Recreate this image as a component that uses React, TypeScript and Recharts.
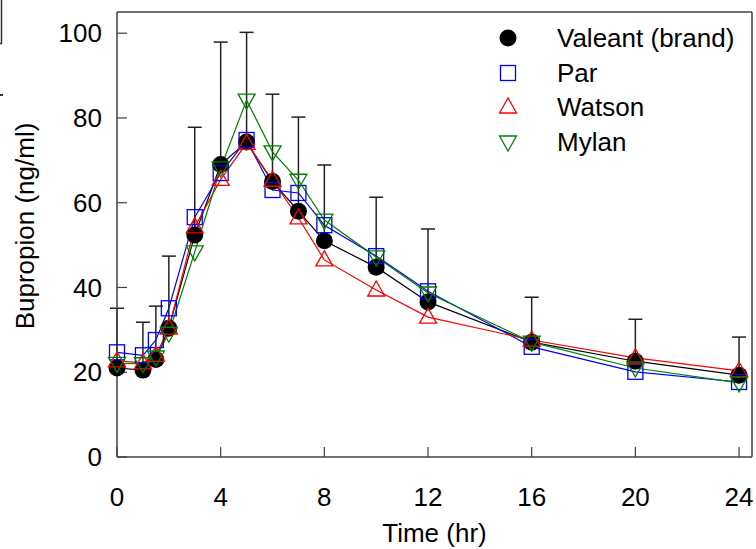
import { LineChart, Line, XAxis, YAxis, ErrorBar, Legend, ReferenceLine } from 'recharts'

const FONT = '"Liberation Sans", Arial, sans-serif'

// sampling times (hr)
const times = [0, 1, 1.5, 2, 3, 4, 5, 6, 7, 8, 10, 12, 16, 20, 24]

// mean plasma bupropion (ng/ml)
const valeant = [21, 20.5, 23, 30.4, 52.4, 69, 74.3, 65, 58, 51, 44.8, 36.6, 27.1, 22.6, 19.3]
const valeantSd = [14.1, 11.3, 12.6, 17, 25.4, 28.9, 25.9, 20.6, 22.2, 17.9, 16.5, 17.2, 10.6, 9.9, 9]
const par = [24.7, 24, 27.6, 35.1, 56.6, 67, 74.8, 63, 62.3, 54.7, 47.4, 39.1, 26, 20.1, 17.7]
const watson = [22.7, 22.2, 24, 30.4, 54.3, 65.5, 74, 65.3, 56.4, 46.5, 39.4, 33, 27.6, 23.4, 20.3]
const mylan = [22.1, 22, 23.6, 29.2, 48.4, 68.2, 84.2, 72, 65.3, 55.9, 47.2, 38.7, 27.1, 21, 17.5]

const xTicks = [0, 4, 8, 12, 16, 20, 24]
const yTicks = [0, 20, 40, 60, 80, 100]

const data = times.map((t, i) => ({
  t,
  valeant: valeant[i],
  valeantErr: [0, valeantSd[i]],
  par: par[i],
  watson: watson[i],
  mylan: mylan[i],
}))

type Shape = 'circle' | 'square' | 'up' | 'down'

function Marker({ shape, cx, cy, color }: { shape: Shape; cx: number; cy: number; color: string }) {
  if (shape === 'circle') return <circle cx={cx} cy={cy} r={8.5} fill={color} />
  if (shape === 'square')
    return <rect x={cx - 7.5} y={cy - 7.5} width={15} height={15} fill="none" stroke={color} strokeWidth={1.3} />
  if (shape === 'up')
    return (
      <polygon
        points={`${cx},${cy - 9} ${cx - 8.5},${cy + 6} ${cx + 8.5},${cy + 6}`}
        fill="none"
        stroke={color}
        strokeWidth={1.3}
      />
    )
  return (
    <polygon
      points={`${cx - 8.5},${cy - 6} ${cx + 8.5},${cy - 6} ${cx},${cy + 9}`}
      fill="none"
      stroke={color}
      strokeWidth={1.3}
    />
  )
}

const series: { key: string; name: string; color: string; shape: Shape }[] = [
  { key: 'valeant', name: 'Valeant (brand)', color: '#000000', shape: 'circle' },
  { key: 'par', name: 'Par', color: '#0000ff', shape: 'square' },
  { key: 'watson', name: 'Watson', color: '#ff0000', shape: 'up' },
  { key: 'mylan', name: 'Mylan', color: '#008000', shape: 'down' },
]

const renderDot = (shape: Shape, color: string) => (props: any) => {
  const { cx, cy, index } = props
  if (cx == null || cy == null) return <g key={index} />
  return <Marker key={index} shape={shape} cx={cx} cy={cy} color={color} />
}

function LegendBox() {
  return (
    <div style={{ fontFamily: FONT, fontSize: 26, color: '#000' }}>
      {series.map((s) => (
        <div key={s.key} style={{ display: 'flex', alignItems: 'center', height: 34.5 }}>
          <svg width={36} height={24} style={{ display: 'block' }}>
            <Marker shape={s.shape} cx={18} cy={12} color={s.color} />
          </svg>
          <span style={{ marginLeft: 31, lineHeight: '30px', whiteSpace: 'nowrap' }}>{s.name}</span>
        </div>
      ))}
    </div>
  )
}

const axisColor = '#404040'

export default function App() {
  return (
    <div style={{ position: 'absolute', left: 0, top: 0, width: 756, height: 549, background: '#fff' }}>
      <LineChart width={756} height={549} data={data} margin={{ top: 12, right: 4, bottom: 0, left: 0 }}>
        <XAxis
          dataKey="t"
          type="number"
          domain={[0, 24.5]}
          ticks={xTicks}
          height={92}
          tickSize={-10}
          tickMargin={41}
          axisLine={{ stroke: axisColor, strokeWidth: 1.5 }}
          tickLine={{ stroke: axisColor, strokeWidth: 1.2 }}
          tick={{ fontSize: 26, fill: '#000', fontFamily: FONT }}
          label={{ value: 'Time (hr)', position: 'insideBottom', offset: 7, fontSize: 26, fill: '#000', fontFamily: FONT }}
        />
        <YAxis
          type="number"
          domain={[0, 105]}
          ticks={yTicks}
          width={117}
          tickSize={-10}
          tickMargin={25}
          axisLine={{ stroke: axisColor, strokeWidth: 1.5 }}
          tickLine={{ stroke: axisColor, strokeWidth: 1.2 }}
          tick={{ fontSize: 26, fill: '#000', fontFamily: FONT }}
          label={{
            value: 'Bupropion (ng/ml)',
            content: () => (
              <text
                transform="translate(34,226) rotate(-90)"
                textAnchor="middle"
                fontSize={26}
                fill="#000"
                fontFamily={FONT}
              >
                Bupropion (ng/ml)
              </text>
            ),
          }}
        />
        <ReferenceLine y={105} stroke={axisColor} strokeWidth={1.5} />
        <ReferenceLine x={24.5} stroke={axisColor} strokeWidth={1.5} />
        {series.map((s) => (
          <Line
            key={s.key}
            dataKey={s.key}
            name={s.name}
            stroke={s.color}
            strokeWidth={1.2}
            dot={renderDot(s.shape, s.color)}
            activeDot={false}
            isAnimationActive={false}
          >
            {s.key === 'valeant' && (
              <ErrorBar dataKey="valeantErr" direction="y" width={7} stroke="#222" strokeWidth={1.5} />
            )}
          </Line>
        ))}
        <Legend
          layout="vertical"
          align="center"
          verticalAlign="middle"
          content={<LegendBox />}
          wrapperStyle={{ position: 'absolute', left: 490, top: 21, width: 266 }}
        />
      </LineChart>
      <svg width={10} height={100} style={{ position: 'absolute', left: 0, top: 0 }}>
        <line x1={1.5} y1={0} x2={1.5} y2={44} stroke="#333" strokeWidth={1.5} />
        <line x1={0} y1={43.5} x2={2} y2={43.5} stroke="#333" strokeWidth={1.5} />
        <line x1={0} y1={95} x2={3} y2={95} stroke="#333" strokeWidth={2} />
      </svg>
    </div>
  )
}
